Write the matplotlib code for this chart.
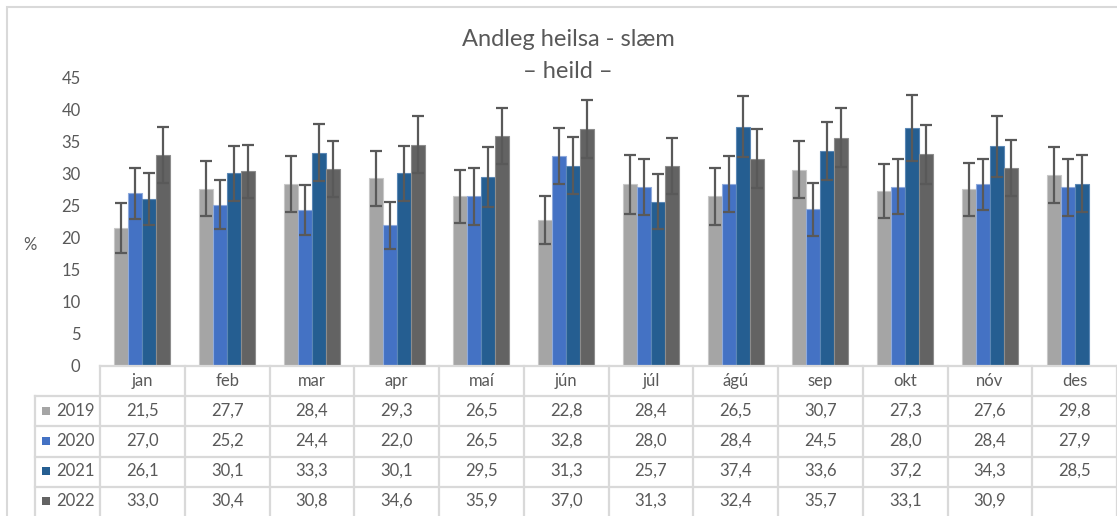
import matplotlib.pyplot as plt
import matplotlib.transforms as mtransforms
from matplotlib.patches import Rectangle
from matplotlib.lines import Line2D
import numpy as np

plt.rcParams['font.family'] = ['Lato', 'DejaVu Sans']

# gögn
months = ['jan', 'feb', 'mar', 'apr', 'maí', 'jún', 'júl', 'ágú', 'sep', 'okt', 'nóv', 'des']
years = ['2019', '2020', '2021', '2022']
v2019 = [21.5, 27.7, 28.4, 29.3, 26.5, 22.8, 28.4, 26.5, 30.7, 27.3, 27.6, 29.8]
v2020 = [27.0, 25.2, 24.4, 22.0, 26.5, 32.8, 28.0, 28.4, 24.5, 28.0, 28.4, 27.9]
v2021 = [26.1, 30.1, 33.3, 30.1, 29.5, 31.3, 25.7, 37.4, 33.6, 37.2, 34.3, 28.5]
v2022 = [33.0, 30.4, 30.8, 34.6, 35.9, 37.0, 31.3, 32.4, 35.7, 33.1, 30.9, np.nan]
# skekkjumörk (lesin af mynd)
e2019 = [3.9, 4.3, 4.4, 4.3, 4.2, 3.8, 4.6, 4.5, 4.5, 4.2, 4.1, 4.35]
e2020 = [4.0, 3.85, 3.9, 3.65, 4.4, 4.4, 4.4, 4.35, 4.15, 4.3, 4.0, 4.4]
e2021 = [4.0, 4.3, 4.45, 4.3, 4.7, 4.5, 4.3, 4.8, 4.6, 5.1, 4.7, 4.5]
e2022 = [4.4, 4.2, 4.35, 4.4, 4.4, 4.5, 4.4, 4.6, 4.6, 4.6, 4.35, np.nan]

values = [v2019, v2020, v2021, v2022]
errors = [e2019, e2020, e2021, e2022]
colors = ['#A5A5A5', '#4472C4', '#255E91', '#636363']
edges = ['#C8C8C8', '#8FAADC', '#5B87B5', '#8C8C8C']

W, H = 1117, 516
fig = plt.figure(figsize=(W / 100, H / 100), dpi=100)

def fx(px):
    return px / W

def fy(py):
    return 1 - py / H

# ytri rammi
fig.add_artist(Rectangle((fx(7), fy(H + 10)), fx(W + 20), fy(7) - fy(H + 10),
                         transform=fig.transFigure, fill=False, edgecolor='#D9D9D9', lw=1.5))

ax = fig.add_axes([fx(100), fy(366), fx(1117 - 100), fy(78) - fy(366)])
ax.set_xlim(-0.5, 11.5)
ax.set_ylim(0, 45)
for s in ax.spines.values():
    s.set_visible(False)
ax.set_xticks([])
ax.set_yticks(range(0, 50, 5))
ax.tick_params(axis='y', length=0, pad=14, labelsize=12, labelcolor='#595959')

x = np.arange(len(months))
w = 0.165
for i in range(4):
    pos = x + (i - 1.5) * w
    ax.bar(pos, values[i], width=w, color=colors[i], edgecolor=edges[i], lw=0.8, zorder=2)
    ax.errorbar(pos, values[i], yerr=errors[i], fmt='none', ecolor='#595959',
                elinewidth=1.6, capsize=4.5, capthick=1.6, zorder=3, clip_on=False)

fig.text(fx(30), fy(245), '%', ha='center', va='center', fontsize=12, color='#595959')

fig.text(fx(568), fy(40), 'Andleg heilsa - slæm', ha='center', va='center', fontsize=17, color='#595959')
fig.text(fx(568), fy(72), '– heild –', ha='center', va='center', fontsize=17, color='#595959')

# tafla
tr = mtransforms.blended_transform_factory(ax.transData, fig.transFigure)
grid = '#D9D9D9'
row_lines = [366, 396, 426, 456.5, 486.5]
row_mid = [381, 411, 441, 471, 501]
col_edges = np.arange(len(months) + 1) - 0.5

for k, yl in enumerate(row_lines):
    x0 = fx(100) if k == 0 else fx(35)
    fig.add_artist(Line2D([x0, 1.0], [fy(yl), fy(yl)], transform=fig.transFigure, color=grid, lw=1.6))
fig.add_artist(Line2D([fx(35), fx(35)], [fy(396), fy(H + 5)], transform=fig.transFigure, color=grid, lw=1.6))
for ce in col_edges:
    fig.add_artist(Line2D([ce, ce], [fy(366), fy(H + 5)], transform=tr, color=grid, lw=1.6))

for j, m in enumerate(months):
    fig.text(j, fy(row_mid[0]), m, transform=tr, ha='center', va='center', fontsize=12, color='#595959')
for i in range(4):
    yc = fy(row_mid[i + 1])
    fig.add_artist(Rectangle((fx(42), yc - (8 / H) / 2), fx(8), 8 / H, transform=fig.transFigure,
                             facecolor=colors[i], edgecolor='none'))
    fig.text(fx(56), yc, years[i], ha='left', va='center', fontsize=12, color='#595959')
    for j in range(len(months)):
        v = values[i][j]
        if np.isnan(v):
            continue
        fig.text(j, yc, f'{v:.1f}'.replace('.', ','), transform=tr, ha='center', va='center',
                 fontsize=12, color='#595959')

plt.savefig('out.png', dpi=100)
